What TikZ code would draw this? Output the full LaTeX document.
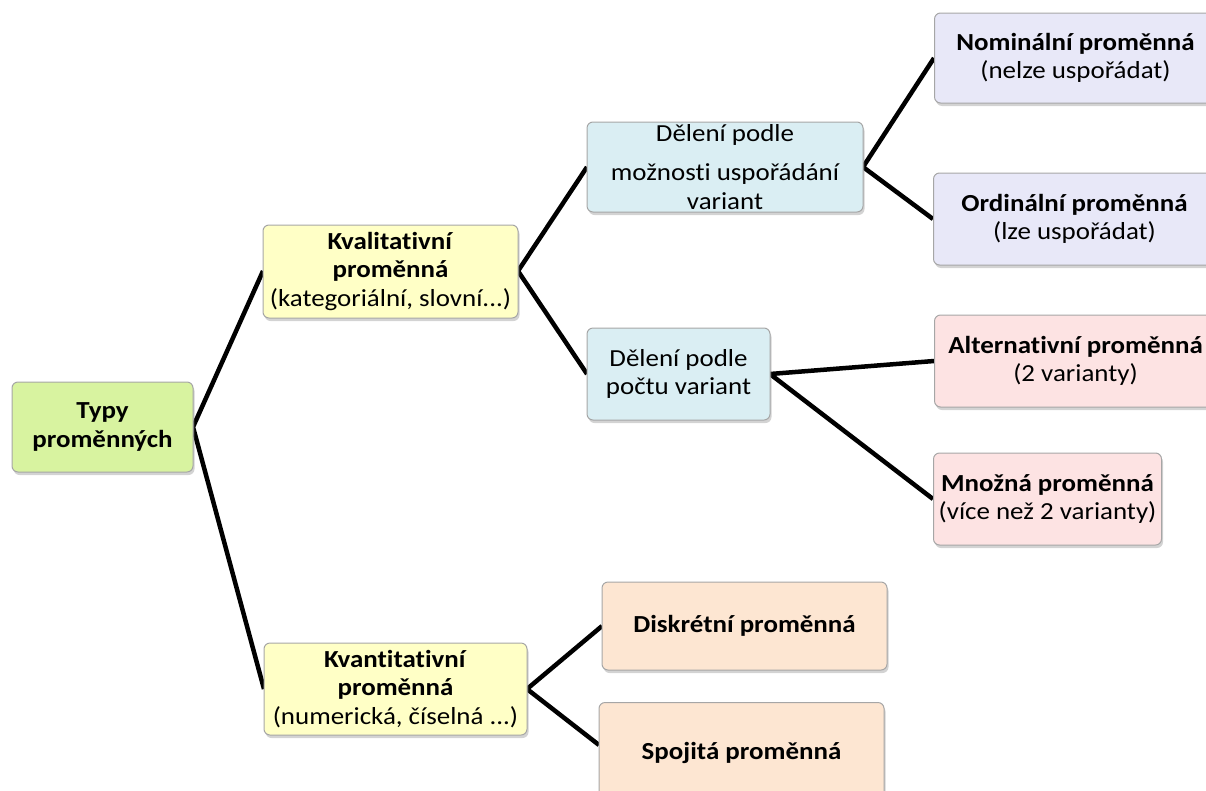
\documentclass[tikz,border=0pt]{standalone}
\usepackage{fontspec}
\setmainfont{Carlito}[FakeStretch=1.1, Ligatures=CommonOff]
\usetikzlibrary{shadows}
\definecolor{cgreen}{HTML}{D8F3A0}
\definecolor{cyellow}{HTML}{FFFFC6}
\definecolor{cblue}{HTML}{DAEEF3}
\definecolor{clav}{HTML}{E8E8F8}
\definecolor{cpink}{HTML}{FDE3E3}
\definecolor{cpeach}{HTML}{FDE6D2}
\definecolor{cborder}{HTML}{A6A6A6}
\tikzset{
  box/.style={draw=cborder, line width=1pt, rounded corners=6pt, align=center,
    inner sep=0pt, font=\fontsize{24.5}{28.5}\selectfont,
    drop shadow={shadow xshift=1.5pt, shadow yshift=-3pt, opacity=0.35, fill=gray}},
  link/.style={line width=4.5pt, black},
}
\begin{document}
\begin{tikzpicture}[x=1pt,y=-1pt]
\useasboundingbox (0,0) rectangle (1206,790);
\clip (0,0) rectangle (1206,790);
% connectors first (drawn beneath boxes)
\coordinate (pTyp) at (193,427);
\coordinate (pKval) at (518,271);
\coordinate (pDelM) at (863,167);
\coordinate (pDelP) at (770,374);
\coordinate (pKvant) at (527,689);
\coordinate (cKval) at (263,271);
\coordinate (cKvant) at (264,689);
\coordinate (cDelM) at (587,167);
\coordinate (cDelP) at (587,374);
\coordinate (cNom) at (934,58);
\coordinate (cOrd) at (933,219);
\coordinate (cAlt) at (934,361);
\coordinate (cMno) at (933,499);
\coordinate (cDis) at (602,626);
\coordinate (cSpo) at (599,745);
\draw[link] (cKval) -- (pTyp) -- (cKvant);
\draw[link] (cDelM) -- (pKval) -- (cDelP);
\draw[link] (cNom) -- (pDelM) -- (cOrd);
\draw[link] (cAlt) -- (pDelP) -- (cMno);
\draw[link] (cDis) -- (pKvant) -- (cSpo);
% boxes
\node[box, fill=cgreen, minimum width=181, minimum height=90] (typ) at (102.5,427)
  {\textbf{Typy}\\\textbf{proměnných}};
\node[box, fill=cyellow, minimum width=255, minimum height=93] (kval) at (390.5,271.5)
  {\textbf{Kvalitativní}\\\textbf{proměnná}\\(kategoriální, slovní...)};
\node[box, fill=cyellow, minimum width=263, minimum height=92] (kvant) at (395.5,689)
  {\textbf{Kvantitativní}\\\textbf{proměnná}\\(numerická, číselná ...)};
\node[box, fill=cblue, minimum width=276, minimum height=90] (delm) at (725,167)
  {Dělení podle\\[11pt]možnosti uspořádání\\variant};
\node[box, fill=cblue, minimum width=183, minimum height=92] (delp) at (678.5,374)
  {Dělení podle\\počtu variant};
\node[box, fill=clav, minimum width=282, minimum height=90, anchor=west] (nom) at (934,58)
  {\textbf{Nominální proměnná}\\(nelze uspořádat)};
\node[box, fill=clav, minimum width=282, minimum height=92, anchor=west] (ord) at (933,219)
  {\textbf{Ordinální proměnná}\\(lze uspořádat)};
\node[box, fill=cpink, minimum width=282, minimum height=92, anchor=west] (alt) at (934,361)
  {\textbf{Alternativní proměnná}\\(2 varianty)};
\node[box, fill=cpink, minimum width=228, minimum height=92, anchor=west] (mno) at (933,499)
  {\textbf{Množná proměnná}\\(více než 2 varianty)};
\node[box, fill=cpeach, minimum width=285, minimum height=88] (dis) at (744.5,626)
  {\textbf{Diskrétní proměnná}};
\node[box, fill=cpeach, minimum width=285, minimum height=100, anchor=north] (spo) at (741.5,702)
  {\textbf{Spojitá proměnná}};
\end{tikzpicture}
\end{document}
